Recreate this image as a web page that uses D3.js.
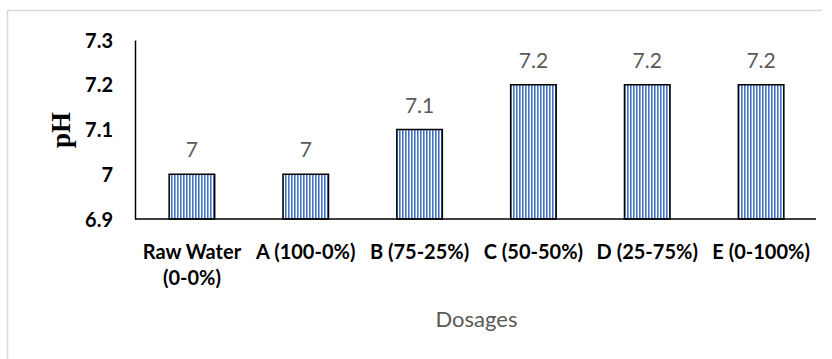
<!DOCTYPE html>
<html>
<head>
<meta charset="utf-8">
<script src="https://cdn.jsdelivr.net/npm/d3@7"></script>
<style>
  body { margin: 0; background: #fff; }
  svg { display: block; }
  .tick-label { font-family: Lato, "Open Sans", sans-serif; font-weight: bold; font-size: 20px; fill: #000; }
  .cat-label { font-family: Lato, "Open Sans", sans-serif; font-weight: bold; font-size: 20px; fill: #000; }
  .value { font-family: Lato, "Open Sans", sans-serif; font-size: 21px; fill: #595959; }
  .x-title { font-family: Lato, "Open Sans", sans-serif; font-size: 22px; fill: #595959; }
  .y-title { font-family: "Liberation Serif", "DejaVu Serif", serif; font-weight: bold; font-size: 27px; fill: #000; }
</style>
</head>
<body>
<div id="chart"></div>
<script>
(function () {
  const categories = [
    ["Raw Water", "(0-0%)"],
    ["A (100-0%)"],
    ["B (75-25%)"],
    ["C (50-50%)"],
    ["D (25-75%)"],
    ["E (0-100%)"]
  ];
  const phValues = [7, 7, 7.1, 7.2, 7.2, 7.2];
  const yTicks = [6.9, 7, 7.1, 7.2, 7.3];

  const width = 832;
  const height = 359;
  const plot = {left: 135, right: 818, top: 40, bottom: 219};

  const svg = d3.select("#chart").append("svg")
    .attr("width", width)
    .attr("height", height);

  // vertical stripe fill like the Excel pattern
  const pattern = svg.append("defs").append("pattern")
    .attr("id", "stripes")
    .attr("patternUnits", "userSpaceOnUse")
    .attr("width", 3)
    .attr("height", 10);
  pattern.append("rect")
    .attr("width", 3).attr("height", 10)
    .attr("fill", "#ffffff");
  pattern.append("rect")
    .attr("width", 1.6).attr("height", 10)
    .attr("fill", "#4472c4");

  // chart area border (clipped on the right and bottom)
  svg.append("path")
    .attr("d", "M7.5," + (height + 2) + "V10.5H822")
    .attr("fill", "none")
    .attr("stroke", "#d9d9d9")
    .attr("stroke-width", 1.5);

  const keys = categories.map(function (c) { return c.join(" "); });

  const x = d3.scaleBand()
    .domain(keys)
    .range([plot.left, plot.right])
    .paddingInner(0.6)
    .paddingOuter(0.3);

  const y = d3.scaleLinear()
    .domain([6.9, 7.3])
    .range([plot.bottom, plot.top]);

  // y axis: line plus labels, no tick marks
  const yAxis = svg.append("g")
    .attr("transform", "translate(" + plot.left + ",0)")
    .call(d3.axisLeft(y)
      .tickValues(yTicks)
      .tickSize(0)
      .tickPadding(22)
      .tickFormat(function (d) { return String(+d.toFixed(1)); }));
  yAxis.select(".domain").attr("stroke", "#000").attr("stroke-width", 1.5);
  yAxis.selectAll("text")
    .attr("class", "tick-label")
    .attr("fill", null)
    .attr("font-size", null)
    .attr("font-family", null)
    .attr("dy", "0.36em");

  // bars
  svg.append("g").selectAll("rect")
    .data(phValues)
    .join("rect")
      .attr("x", function (d, i) { return x(keys[i]); })
      .attr("y", function (d) { return y(d); })
      .attr("width", x.bandwidth())
      .attr("height", function (d) { return y(6.9) - y(d); })
      .attr("fill", "url(#stripes)")
      .attr("stroke", "#000")
      .attr("stroke-width", 1.5);

  // data labels
  svg.append("g").selectAll("text")
    .data(phValues)
    .join("text")
      .attr("class", "value")
      .attr("text-anchor", "middle")
      .attr("x", function (d, i) { return x(keys[i]) + x.bandwidth() / 2; })
      .attr("y", function (d) { return y(d) - 17; })
      .text(function (d) { return String(d); });

  // x axis line
  svg.append("line")
    .attr("x1", plot.left).attr("x2", plot.right - 2)
    .attr("y1", y(6.9)).attr("y2", y(6.9))
    .attr("stroke", "#000")
    .attr("stroke-width", 1.5);

  // category labels, first one wraps onto two lines
  const cats = svg.append("g").selectAll("text")
    .data(categories)
    .join("text")
      .attr("class", "cat-label")
      .attr("text-anchor", "middle")
      .attr("x", function (d, i) { return x(keys[i]) + x.bandwidth() / 2; })
      .attr("y", 259);
  cats.selectAll("tspan")
    .data(function (d) { return d; })
    .join("tspan")
      .attr("x", function () { return this.parentNode.getAttribute("x"); })
      .attr("dy", function (d, i) { return i === 0 ? 0 : 26; })
      .text(function (d) { return d; });

  // axis titles
  svg.append("text")
    .attr("class", "x-title")
    .attr("text-anchor", "middle")
    .attr("x", (plot.left + plot.right) / 2)
    .attr("y", 327)
    .text("Dosages");

  svg.append("text")
    .attr("class", "y-title")
    .attr("text-anchor", "middle")
    .attr("transform", "translate(70,130) rotate(-90)")
    .text("pH");
})();
</script>
</body>
</html>
